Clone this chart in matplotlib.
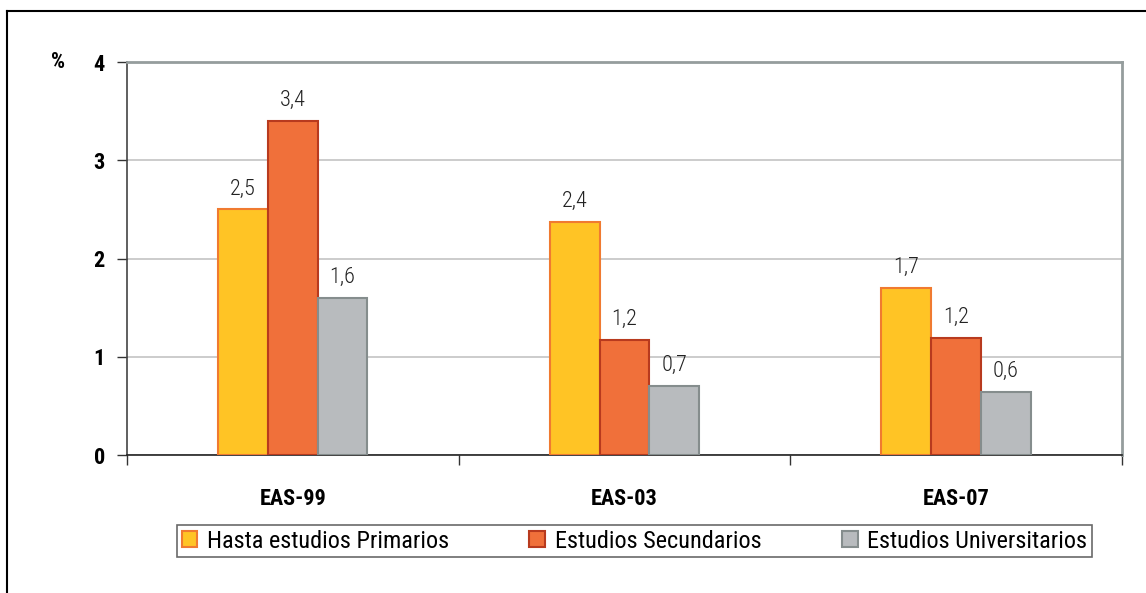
import matplotlib
matplotlib.use("Agg")
import matplotlib.pyplot as plt
import numpy as np
from matplotlib.lines import Line2D
from matplotlib.patches import Patch
from matplotlib import font_manager

categories = ["EAS-99", "EAS-03", "EAS-07"]
series_names = ["Hasta estudios Primarios", "Estudios Secundarios", "Estudios Universitarios"]
primarios = [2.5, 2.37, 1.7]
secundarios = [3.4, 1.17, 1.19]
universitarios = [1.6, 0.7, 0.64]
labels_primarios = ["2,5", "2,4", "1,7"]
labels_secundarios = ["3,4", "1,2", "1,2"]
labels_universitarios = ["1,6", "0,7", "0,6"]
yticks = [0, 1, 2, 3, 4]

avail = {f.name for f in font_manager.fontManager.ttflist}
fam = "Liberation Sans"
for cand in ["Liberation Sans Narrow", "Roboto Condensed", "Open Sans Condensed", "Liberation Sans"]:
    if cand in avail:
        fam = cand
        break
plt.rcParams['font.family'] = [fam, 'DejaVu Sans']

fig = plt.figure(figsize=(11.46, 5.93), dpi=100)
ax = fig.add_axes([0.1108, 0.2327, 0.979 - 0.1108, 0.8954 - 0.2327])

faces = ["#FFC425", "#F0703A", "#B8BBBE"]
edges = ["#F07A30", "#B83A1E", "#858D8D"]
all_vals = [primarios, secundarios, universitarios]
all_labels = [labels_primarios, labels_secundarios, labels_universitarios]
x = np.arange(len(categories))
w = 0.15
for i, (vals, labs) in enumerate(zip(all_vals, all_labels)):
    xs = x + (i - 1) * w
    ax.bar(xs, vals, width=w, color=faces[i], edgecolor=edges[i], linewidth=1.5, zorder=3)
    for xi, v, lab in zip(xs, vals, labs):
        ax.text(xi, v + 0.1, lab, ha="center", va="bottom", fontsize=16, color="#222222",
                fontweight="light")

ax.set_xlim(-0.5, 2.5)
ax.set_ylim(0, 4)
ax.set_yticks(yticks)
ax.set_yticklabels([str(t) for t in yticks], fontsize=16, fontweight="bold")
ax.yaxis.grid(True, color="#C4C4C4", linewidth=1.2, zorder=0)
ax.set_axisbelow(True)
ax.tick_params(axis="y", length=7, width=1, color="#333333", pad=9)

ax.set_xticks(x)
ax.set_xticklabels(categories, fontsize=16, fontweight="bold")
ax.tick_params(axis="x", which="major", length=0, pad=24)
ax.set_xticks([-0.5, 0.5, 1.5, 2.5], minor=True)
ax.tick_params(axis="x", which="minor", length=7, width=1, color="#333333")

for s in ["top", "right"]:
    ax.spines[s].set_color("#959D9D")
    ax.spines[s].set_linewidth(2)
ax.spines["left"].set_color("#444444")
ax.spines["left"].set_linewidth(1.2)
ax.spines["bottom"].set_color("#222222")
ax.spines["bottom"].set_linewidth(1.2)

fig.text(58 / 1146, 1 - 62 / 593, "%", ha="center", va="center", fontsize=16, fontweight="bold")

handles = [Patch(facecolor=faces[i], edgecolor=edges[i], linewidth=1.5) for i in range(3)]
leg = fig.legend(handles, series_names, loc="center", bbox_to_anchor=(634.5 / 1146, 1 - 541 / 593),
                 ncol=3, fontsize=17.5, frameon=True, fancybox=False, edgecolor="#444444",
                 handlelength=0.65, handleheight=0.65, handletextpad=0.4, columnspacing=3.3,
                 borderpad=0.2, borderaxespad=0)
leg.get_frame().set_linewidth(1.2)

fig.add_artist(Line2D([7 / 1146, 1], [1 - 11 / 593, 1 - 11 / 593], transform=fig.transFigure, color="black", linewidth=1.5))
fig.add_artist(Line2D([7 / 1146, 7 / 1146], [0, 1 - 11 / 593], transform=fig.transFigure, color="black", linewidth=1.5))

fig.savefig("out.png", dpi=100)
